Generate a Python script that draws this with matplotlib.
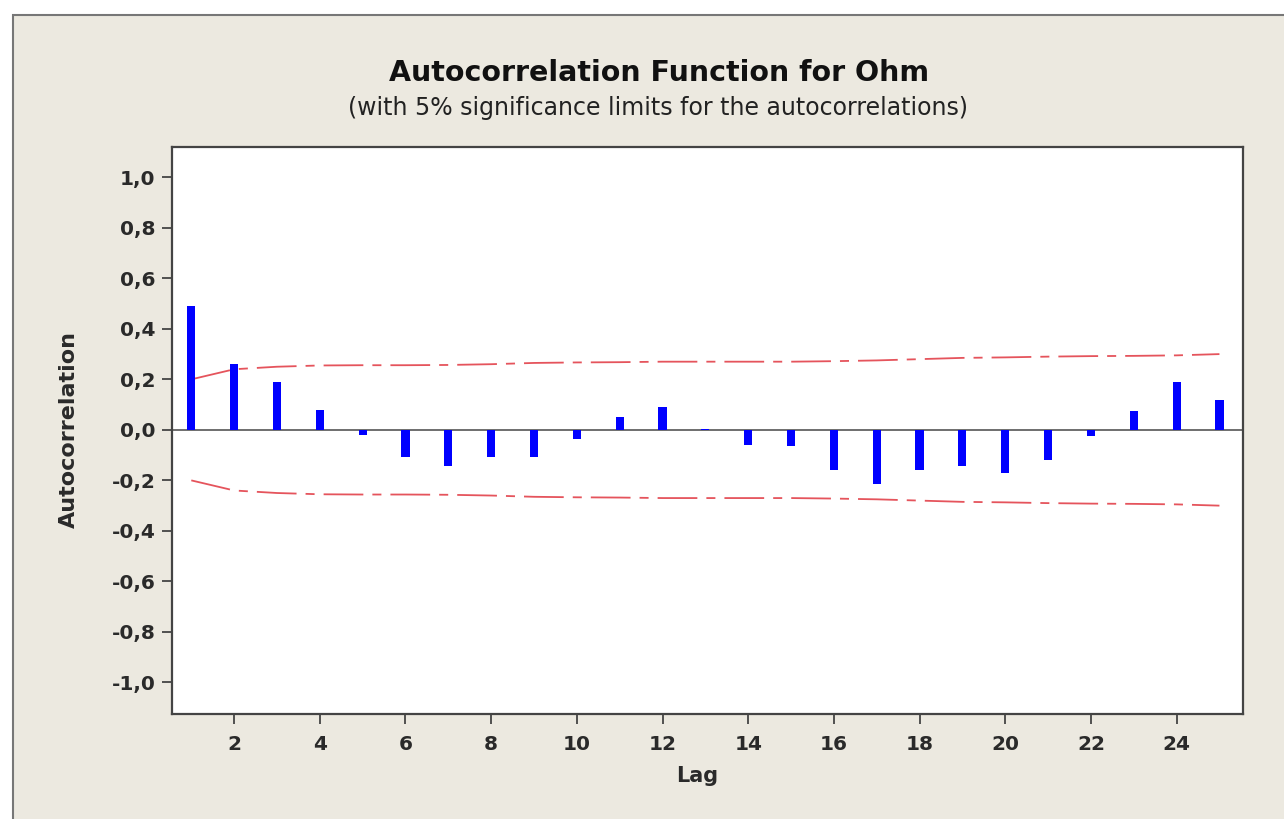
import numpy as np
import matplotlib
matplotlib.use("Agg")
import matplotlib.pyplot as plt
from matplotlib.patches import Rectangle
from matplotlib.ticker import FuncFormatter

# values
lags = list(range(1, 26))
acf = [0.49, 0.26, 0.19, 0.077, -0.022, -0.108, -0.143, -0.108, -0.108, -0.035,
       0.05, 0.09, 0.003, -0.06, -0.065, -0.16, -0.215, -0.16, -0.143, -0.172,
       -0.119, -0.024, 0.075, 0.189, 0.119]
upper_limit = [0.20, 0.24, 0.25, 0.255, 0.256, 0.256, 0.257, 0.26, 0.265, 0.267,
               0.268, 0.27, 0.27, 0.27, 0.27, 0.272, 0.275, 0.28, 0.285, 0.287,
               0.29, 0.292, 0.293, 0.295, 0.30]
lower_limit = [-v for v in upper_limit]
yticks = [-1.0, -0.8, -0.6, -0.4, -0.2, 0.0, 0.2, 0.4, 0.6, 0.8, 1.0]
xticks = [2, 4, 6, 8, 10, 12, 14, 16, 18, 20, 22, 24]

W, H = 1284, 819
bg = "#ECE9E0"
txt = "#2a2a2a"

fig = plt.figure(figsize=(W / 100, H / 100), dpi=100, facecolor="white")

# beige panel with grey frame
fig.patches.append(Rectangle((13 / W, -0.01), 1.02, 1 - 15 / H + 0.01,
                             transform=fig.transFigure, facecolor=bg,
                             edgecolor="#777777", linewidth=1.5, zorder=-5))

ax = fig.add_axes([172 / W, (H - 714) / H, (1243 - 172) / W, (714 - 147) / H])
ax.set_facecolor("white")

ax.bar(lags, acf, width=0.19, color="#0000FF", zorder=3)
ax.axhline(0, color="#555555", linewidth=1.2, zorder=2)

ls = dict(color="#E5545C", linewidth=1.3, dashes=(22, 5, 5, 5))
ax.plot(lags, upper_limit, **ls)
ax.plot(lags, lower_limit, **ls)

ax.set_xlim(0.55, 25.55)
ax.set_ylim(-1.125, 1.12)
ax.set_xticks(xticks)
ax.set_yticks(yticks)
ax.yaxis.set_major_formatter(FuncFormatter(lambda v, p: f"{v:.1f}".replace(".", ",")))

for s in ax.spines.values():
    s.set_color("#444444")
    s.set_linewidth(1.6)
ax.tick_params(direction="out", length=7, width=1.3, color="#444444",
               labelsize=14.5, labelcolor=txt)
ax.tick_params(axis="x", pad=8)
ax.tick_params(axis="y", pad=5)
for lab in ax.get_xticklabels() + ax.get_yticklabels():
    lab.set_fontweight("bold")

ax.set_xlabel("Lag", fontsize=15, fontweight="bold", color=txt)
ax.xaxis.set_label_coords((697 - 172) / 1071, -(766 - 714) / 567)
ax.set_ylabel("Autocorrelation", fontsize=16, fontweight="bold", color=txt)
ax.yaxis.set_label_coords(-(172 - 79) / 1071, (714 - 430) / 567)

fig.text(659 / W, 1 - 73 / H, "Autocorrelation Function for Ohm", ha="center",
         va="center", fontsize=20.5, fontweight="bold", color="#111111")
fig.text(658 / W, 1 - 108 / H, "(with 5% significance limits for the autocorrelations)",
         ha="center", va="center", fontsize=17, color="#222222")

fig.savefig("out.png", dpi=100, facecolor=fig.get_facecolor())
